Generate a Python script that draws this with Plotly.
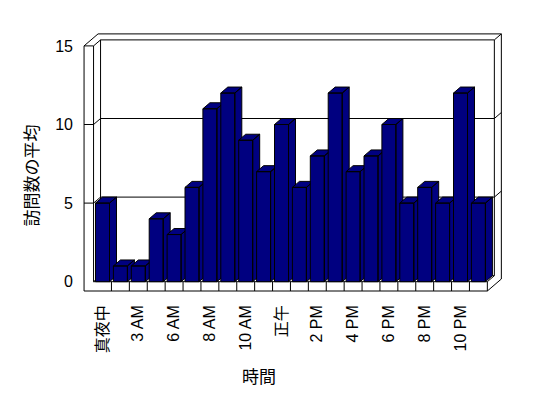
import plotly.graph_objects as go

# ---- data ----
categories = ["真夜中", "1 AM", "3 AM", "4 AM", "6 AM", "7 AM", "8 AM", "9 AM",
              "10 AM", "11 AM", "正午", "1 PM", "2 PM", "3 PM", "4 PM", "5 PM",
              "6 PM", "7 PM", "8 PM", "9 PM", "10 PM", "11 PM"]
values = [5, 1, 1, 4, 3, 6, 11, 12, 9, 7, 10, 6, 8, 12, 7, 8, 10, 5, 6, 5, 12, 5]
y_ticks = [0, 5, 10, 15]
x_title = "時間"
y_title = "訪問数の平均"

# ---- geometry (pixel scale of the pseudo-3D box) ----
W, H = 548, 398
STEP = 17.9      # px per category
UNIT = 15.72     # px per value unit
X0PX = 102.5     # px of first category centre
Y0PX = 281.7     # px of value 0 (front)
PL, PR, PT, PB = 80, 506, 30, 296   # plot area in px

DX = 7 / STEP    # depth offset (data units)
DY = 6 / UNIT
BW = 14 / STEP   # bar width
WALL = 9.5 / STEP
FLOOR = 9.3 / UNIT

n = len(values)
XL, XR = -0.5, n - 0.5
XW = XL - WALL
YF = -FLOOR
YT = max(y_ticks)

FONT = "Liberation Sans, Noto Sans CJK JP"
CJK = "Noto Sans CJK JP"
NAVY = "#000080"

fig = go.Figure()

# bars as pseudo-3D prisms (front, top, side faces) drawn left to right
for i, v in enumerate(values):
    x0, x1 = i - BW / 2, i + BW / 2
    xs = [x0, x1, x1, x0, x0, None,
          x0, x1, x1 + DX, x0 + DX, x0, None,
          x1, x1 + DX, x1 + DX, x1, x1]
    ys = [0, 0, v, v, 0, None,
          v, v, v + DY, v + DY, v, None,
          0, DY, v + DY, v, 0]
    fig.add_trace(go.Scatter(x=xs, y=ys, mode="lines", fill="toself",
                             fillcolor=NAVY, line=dict(color="black", width=1),
                             hoverinfo="skip", showlegend=False))

# frame / walls
segs = []
segs += [((XW, YT), (XW, YF)), ((XW, YF), (XR, YF)), ((XR, YF), (XR, 0)),
         ((XR, 0), (XL, 0)), ((XL, 0), (XL, YT)), ((XL, YT), (XW, YT))]
for k in range(1, n):
    segs.append(((XL + k, YF), (XL + k, 0)))
for v in y_ticks:
    if 0 < v < YT:
        segs.append(((XW, v), (XL, v)))
    segs.append(((XL, v), (XL + DX, v + DY)))
    segs.append(((XL + DX, v + DY), (XR + DX, v + DY)))
    if v > 0:
        segs.append(((XR + DX, v + DY), (XR + 2 * DX, v + 2 * DY)))
segs.append(((XR, 0), (XR + DX, DY)))
segs.append(((XL + DX, DY), (XL + DX, YT + DY)))
segs.append(((XR + DX, DY), (XR + DX, YT + DY)))
segs += [((XW, YT), (XW + 2 * DX, YT + 2 * DY)),
         ((XW + 2 * DX, YT + 2 * DY), (XR + 2 * DX, YT + 2 * DY)),
         ((XR + 2 * DX, YT + 2 * DY), (XR + 2 * DX, YF + 2 * DY)),
         ((XR + 2 * DX, YF + 2 * DY), (XR, YF))]

shapes = [dict(type="line", xref="x", yref="y", x0=a[0], y0=a[1], x1=b[0], y1=b[1],
               line=dict(color="black", width=1), layer="below") for a, b in segs]

xrange = [(PL - X0PX) / STEP, (PR - X0PX) / STEP]
yrange = [(Y0PX - PB) / UNIT, (Y0PX - PT) / UNIT]

def px_to_paper(px, py):
    return (px - PL) / (PR - PL), (PB - py) / (PB - PT)

ax_x, ax_y = px_to_paper(259, 375.5)
ay_x, ay_y = px_to_paper(30, 175.5)

fig.update_layout(
    width=W, height=H,
    margin=dict(l=PL, r=W - PR, t=PT, b=H - PB, pad=0),
    paper_bgcolor="white", plot_bgcolor="white",
    font=dict(family=FONT, size=16, color="black"),
    shapes=shapes,
    showlegend=False,
    xaxis=dict(range=xrange, showgrid=False, zeroline=False, showline=False,
               tickmode="array", tickvals=list(range(0, n, 2)),
               ticktext=categories[::2], tickangle=-90, ticks="",
               ticklabelstandoff=5, fixedrange=True),
    yaxis=dict(range=yrange, showgrid=False, zeroline=False, showline=False,
               tickmode="array", tickvals=y_ticks,
               ticktext=[str(t) for t in y_ticks], ticks="",
               ticklabelstandoff=6, fixedrange=True),
    annotations=[
        dict(text=x_title, xref="paper", yref="paper", x=ax_x, y=ax_y,
             showarrow=False, font=dict(family=CJK, size=17),
             xanchor="center", yanchor="middle"),
        dict(text=y_title, xref="paper", yref="paper", x=ay_x, y=ay_y,
             showarrow=False, font=dict(family=CJK, size=17), textangle=-90,
             xanchor="center", yanchor="middle"),
    ],
)

fig.write_html("out.html")
